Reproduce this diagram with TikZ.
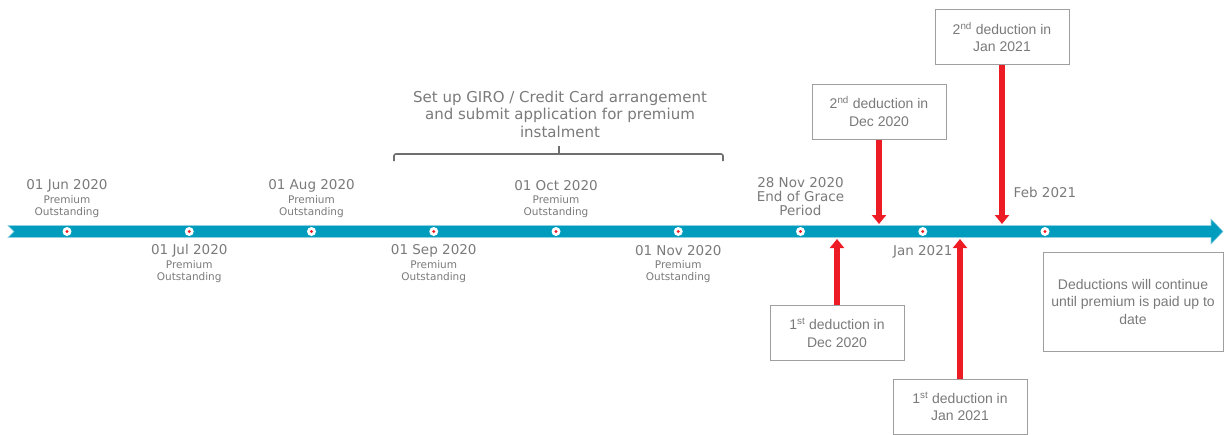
\documentclass[tikz,border=0pt]{standalone}
\usepackage{fontspec}
\setmainfont{DejaVu Sans}
\newfontfamily\boxfont{Liberation Sans}
\usetikzlibrary{positioning,arrows.meta}

\definecolor{barblue}{HTML}{009CBE}
\definecolor{dedred}{HTML}{ED1C24}
\definecolor{txtgray}{HTML}{7A7A7A}
\definecolor{boxgray}{HTML}{9F9F9F}
\definecolor{bracegray}{HTML}{6F6F6F}

\def\barY{231.5}
\def\firstDot{67}
\def\dotGap{122.25}

\tikzset{
  date/.style={font=\fontsize{13.5}{14}\selectfont, text=txtgray, inner sep=0pt, align=center},
  sub/.style={font=\fontsize{10.5}{12}\selectfont, text=txtgray, align=center, inner sep=0pt},
  dedbox/.style={draw=boxgray, line width=1pt, fill=white, text=txtgray, align=center,
    font=\boxfont\fontsize{14}{17.5}\selectfont, minimum width=134pt, minimum height=55pt, inner sep=0pt},
  dedarrow/.style={draw=dedred, line width=6pt, -{Triangle[width=14pt,length=9pt]}},
  tick/.style={circle, fill=white, minimum size=9pt, inner sep=0pt},
}

\begin{document}
\begin{tikzpicture}[x=1pt, y=-1pt]
            \useasboundingbox (0,0) rectangle (1224,434);
            \fill [barblue, draw=barblue!45!white, line width=0.6pt]
            (8,225.5) -- (1211,225.5) -- (1211,219) -- (1223,\barY)
            -- (1211,244) -- (1211,237.5) -- (8,237.5) -- (14,\barY) -- cycle
            ;
            \foreach \i in {0,...,8} {
                \pgfmathsetmacro\dx{\firstDot+\dotGap*\i}
                \node [tick] (k\i) at (\dx,\barY) {};
                \fill [dedred] (k\i) circle (1.6pt);
            }
            \foreach \i/\txt in {0/01 Jun 2020, 1/01 Jul 2020, 2/01 Aug 2020,
                3/01 Sep 2020, 4/01 Oct 2020, 5/01 Nov 2020} {
                \pgfmathsetmacro\dy{ifthenelse(mod(\i,2)==0,186,251)}
                \node [date] (d\i) at (k\i |- 0,\dy) {\txt};
                \node [sub] (s\i) at (k\i |- 0,\dy+20.5) {Premium\\Outstanding};
            }
            \node [date] (grace) at (k6 |- 0,197) {28 Nov 2020\\End of Grace\\Period};
            \node [date] (jan) at (k7 |- 0,252) {Jan 2021};
            \node [date] (feb) at (k8 |- 0,192) {Feb 2021};

            % instalment window
            \node [font=\fontsize{15}{17.5}\selectfont, text=txtgray, align=center]
            (giro) at (560,114) {Set up GIRO / Credit Card arrangement\\and submit application for premium\\instalment};
            \draw [bracegray, line width=1.6pt, rounded corners=2pt]
            (394,161) -- (394,154) -- (723,154) -- (723,161)
            (559,154) -- (559,146)
            ;

            % deductions
            \node [dedbox] (dec1) at (837,333) {1\textsuperscript{st} deduction in\\Dec 2020};
            \node [dedbox] (dec2) at (879,111.5) {2\textsuperscript{nd} deduction in\\Dec 2020};
            \node [dedbox] (jan1) at (960,406.5) {1\textsuperscript{st} deduction in\\Jan 2021};
            \node [dedbox] (jan2) at (1002,37) {2\textsuperscript{nd} deduction in\\Jan 2021};
            \node [dedbox, minimum width=180pt, minimum height=99pt] (cont) at (1133,301.5)
            {Deductions will continue\\until premium is paid up to\\date};

            \coordinate (dec1tip) at (837,239);
            \coordinate (dec2tip) at (879,224);
            \coordinate (jan1tip) at (960,239);
            \coordinate (jan2tip) at (1002,224);
            \draw [dedarrow] (dec1) -- (dec1tip);
            \draw [dedarrow] (dec2) -- (dec2tip);
            \draw [dedarrow] (jan1) -- (jan1tip);
            \draw [dedarrow] (jan2) -- (jan2tip);
        \end{tikzpicture}
\end{document}
